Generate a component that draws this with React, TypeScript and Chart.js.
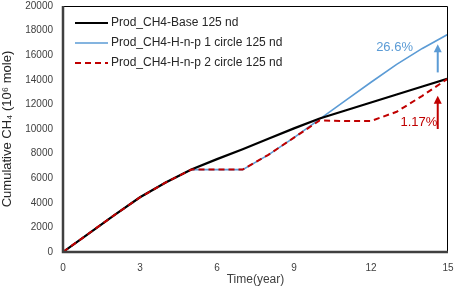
import React, { useEffect, useRef } from "react";
import { Chart, registerables } from "chart.js";

Chart.register(...registerables);

const years = [0, 1, 2, 3, 4, 5, 6, 7, 8, 9, 10, 11, 12, 13, 14, 15];
const baseValues = [0, 1500, 3000, 4450, 5650, 6700, 7550, 8350, 9200, 10050, 10850, 11500, 12150, 12800, 13450, 14100];
const circle1Values = [0, 1500, 3000, 4450, 5650, 6700, 6700, 6700, 7900, 9300, 10800, 12300, 13800, 15250, 16550, 17700];
const circle2Values = [0, 1500, 3000, 4450, 5650, 6700, 6700, 6700, 7900, 9300, 10700, 10650, 10650, 11400, 12700, 14100];
const seriesLabels = [
  "Prod_CH4-Base 125 nd",
  "Prod_CH4-H-n-p 1 circle 125 nd",
  "Prod_CH4-H-n-p 2 circle 125 nd",
];
const xTicks = [0, 3, 6, 9, 12, 15];
const yTicks = [0, 2000, 4000, 6000, 8000, 10000, 12000, 14000, 16000, 18000, 20000];
const annotations = [
  { text: "26.6%", x: 14.6, from: 14600, to: 16900, labelX: 12.2, labelY: 16600, color: "#5B9BD5" },
  { text: "1.17%", x: 14.6, from: 10000, to: 12700, labelX: 13.15, labelY: 10500, color: "#C00000" },
];

const FONT = "'Liberation Sans', Arial, sans-serif";

const boxPlugin = {
  id: "boxAndExtras",
  afterDatasetsDraw(chart: any) {
    const { ctx, chartArea: a, scales } = chart;
    ctx.save();
    // frame
    ctx.strokeStyle = "#000";
    ctx.lineWidth = 1;
    ctx.beginPath();
    ctx.moveTo(a.left, a.top + 0.5);
    ctx.lineTo(a.right - 0.5, a.top + 0.5);
    ctx.lineTo(a.right - 0.5, a.bottom);
    ctx.stroke();
    ctx.strokeStyle = "#404040";
    ctx.lineWidth = 2.5;
    ctx.beginPath();
    ctx.moveTo(a.left, a.top);
    ctx.lineTo(a.left, a.bottom);
    ctx.lineTo(a.right, a.bottom);
    ctx.stroke();

    // legend
    const ds = chart.data.datasets;
    ctx.font = `12px ${FONT}`;
    ctx.textBaseline = "middle";
    ds.forEach((d: any, i: number) => {
      const y = a.top + 17 + i * 20;
      ctx.strokeStyle = d.borderColor;
      ctx.lineWidth = d.borderWidth;
      ctx.setLineDash(d.borderDash || []);
      ctx.beginPath();
      ctx.moveTo(a.left + 12, y);
      ctx.lineTo(a.left + 45, y);
      ctx.stroke();
      ctx.setLineDash([]);
      ctx.fillStyle = "#262626";
      ctx.fillText(d.label, a.left + 48, y);
    });

    // annotations
    const xs = scales.x, ys = scales.y;
    annotations.forEach((an) => {
      const x = xs.getPixelForValue(an.x);
      const y1 = ys.getPixelForValue(an.from);
      const y2 = ys.getPixelForValue(an.to);
      ctx.strokeStyle = an.color;
      ctx.fillStyle = an.color;
      ctx.lineWidth = 2;
      ctx.beginPath();
      ctx.moveTo(x, y1);
      ctx.lineTo(x, y2 + 6);
      ctx.stroke();
      ctx.beginPath();
      ctx.moveTo(x, y2);
      ctx.lineTo(x - 4, y2 + 8);
      ctx.lineTo(x + 4, y2 + 8);
      ctx.closePath();
      ctx.fill();
      ctx.font = `13px ${FONT}`;
      ctx.textBaseline = "middle";
      ctx.fillText(an.text, xs.getPixelForValue(an.labelX), ys.getPixelForValue(an.labelY));
    });
    ctx.restore();
  },
};

export default function App() {
  const ref = useRef<HTMLCanvasElement>(null);
  useEffect(() => {
    if (!ref.current) return;
    const toPts = (vals: number[]) => years.map((x, i) => ({ x, y: vals[i] }));
    const chart = new Chart(ref.current, {
      type: "line",
      data: {
        datasets: [
          { label: seriesLabels[0], data: toPts(baseValues), borderColor: "#000000", borderWidth: 2.2, pointRadius: 0, tension: 0, order: 1 },
          { label: seriesLabels[1], data: toPts(circle1Values), borderColor: "#5B9BD5", borderWidth: 1.6, pointRadius: 0, tension: 0, order: 2 },
          { label: seriesLabels[2], data: toPts(circle2Values), borderColor: "#C00000", borderWidth: 2, borderDash: [6, 4], pointRadius: 0, tension: 0, order: 0 },
        ],
      },
      options: {
        animation: false,
        responsive: false,
        maintainAspectRatio: false,
        layout: { padding: { top: 6, right: 9, left: 0, bottom: 0 } },
        plugins: { legend: { display: false }, tooltip: { enabled: false } },
        scales: {
          x: {
            type: "linear",
            min: 0,
            max: 15,
            afterBuildTicks: (s: any) => { s.ticks = xTicks.map((v) => ({ value: v })); },
            afterFit: (s: any) => { s.height = 37; s.paddingRight = 0; s.paddingLeft = 0; },
            grid: { display: false, drawTicks: false },
            border: { display: false },
            ticks: { font: { size: 10, family: FONT }, color: "#404040", padding: 10 },
            title: { display: true, text: "Time(year)", font: { size: 12, family: FONT }, color: "#404040", padding: { top: 0, bottom: 2 } },
          },
          y: {
            min: 0,
            max: 20000,
            afterBuildTicks: (s: any) => { s.ticks = yTicks.map((v) => ({ value: v })); },
            afterFit: (s: any) => { s.width = 63; s.paddingTop = 0; s.paddingBottom = 0; },
            grid: { display: false, drawTicks: false },
            border: { display: false },
            ticks: { font: { size: 10, family: FONT }, color: "#404040", padding: 10, callback: (v: any) => String(v) },
            title: { display: true, text: "Cumulative CH₄ (10⁶ mole)", font: { size: 13, family: FONT }, color: "#262626", padding: { top: 0, bottom: 0 } },
          },
        },
      },
      plugins: [boxPlugin],
    });
    return () => chart.destroy();
  }, []);
  return (
    <div style={{ position: "absolute", left: 0, top: 0, width: 457, height: 289, background: "#fff" }}>
      <canvas ref={ref} width={457} height={289} style={{ display: "block" }} />
    </div>
  );
}
